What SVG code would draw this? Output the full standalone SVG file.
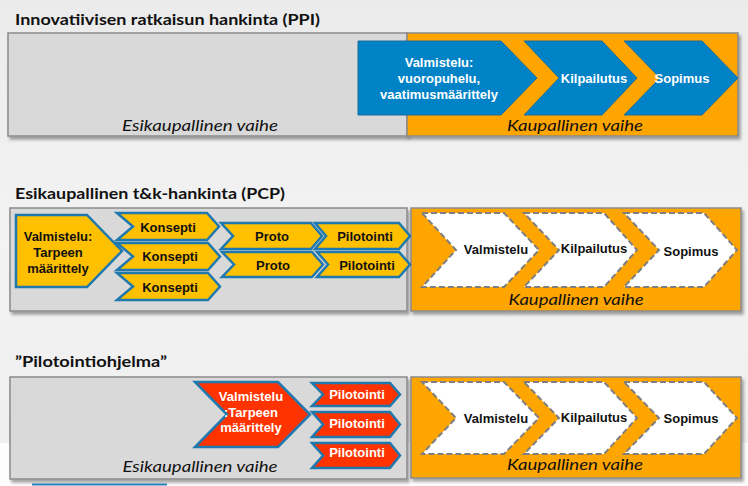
<svg xmlns="http://www.w3.org/2000/svg" width="748" height="486" viewBox="0 0 748 486">
<defs>
<linearGradient id="bg" x1="0" y1="0" x2="0" y2="1">
<stop offset="0" stop-color="#ebebeb"/>
<stop offset="0.5" stop-color="#f3f3f3"/>
<stop offset="1" stop-color="#eeeeee"/>
</linearGradient>
<filter id="sh" x="-5%" y="-10%" width="110%" height="125%">
<feDropShadow dx="2" dy="3" stdDeviation="1.8" flood-color="#000" flood-opacity="0.35"/>
</filter>
<style>
.title{font-family:Lato,"Liberation Sans",sans-serif;font-weight:bold;font-size:16px;fill:#111}
.phase{font-family:Lato,"Liberation Sans",sans-serif;font-style:italic;font-size:16px;fill:#111;text-anchor:middle}
.grey{fill:#d9d9d9;stroke:#8a8a8a;stroke-width:1.5}
.orange{fill:#ffa500;stroke:#8a8a8a;stroke-width:1.5}
.blue{fill:#0082c6;stroke:#1b6c9c;stroke-width:1}
.yellow{fill:#ffc000;stroke:#1f78ae;stroke-width:2.5;stroke-linejoin:miter}
.red{fill:#ff3300;stroke:#1f78ae;stroke-width:2.5;stroke-linejoin:miter}
.white{fill:#fff;stroke:#7f7f7f;stroke-width:2;stroke-dasharray:6 3}
.lbl{font-family:"Liberation Sans",Arial,sans-serif;font-weight:bold;font-size:13px;text-anchor:middle}
.wt{fill:#fff}
.dk{fill:#111}
</style>
</defs>
<rect x="0" y="0" width="748" height="486" fill="url(#bg)"/>
<rect x="0" y="443" width="748" height="43" fill="#fdfdfd"/>
<line x1="32" y1="484.5" x2="167" y2="484.5" stroke="#2a86c0" stroke-width="2"/>

<!-- Section 1: PPI -->
<text class="title" x="15" y="25" textLength="305" lengthAdjust="spacingAndGlyphs">Innovatiivisen ratkaisun hankinta (PPI)</text>
<g id="ppi-esikaupallinen">
<rect class="grey" x="8" y="33" width="399" height="103" filter="url(#sh)"/>
<text class="phase" x="200" y="131" textLength="156" lengthAdjust="spacingAndGlyphs">Esikaupallinen vaihe</text>
</g>
<g id="ppi-kaupallinen">
<rect class="orange" x="407" y="33" width="331" height="103" filter="url(#sh)"/>
<text class="phase" x="575" y="131" textLength="136" lengthAdjust="spacingAndGlyphs">Kaupallinen vaihe</text>
</g>
<g id="ppi-valmistelu">
<path class="blue" d="M358,41 L501,41 L537,78 L501,115 L358,115 Z"/>
<text class="lbl wt" font-size="12.5" x="439" y="67">Valmistelu:</text>
<text class="lbl wt" font-size="12.5" x="439" y="83">vuoropuhelu,</text>
<text class="lbl wt" font-size="12.5" x="439" y="99">vaatimusmäärittely</text>
</g>
<g id="ppi-kilpailutus">
<path class="blue" d="M524,41 L602,41 L637,78 L602,115 L524,115 L559,78 Z"/>
<text class="lbl wt" x="594" y="83">Kilpailutus</text>
</g>
<g id="ppi-sopimus">
<path class="blue" d="M624,41 L702,41 L738,78 L702,115 L624,115 L660,78 Z"/>
<text class="lbl wt" x="682" y="83">Sopimus</text>
</g>

<!-- Section 2: PCP -->
<text class="title" x="15" y="199" textLength="270" lengthAdjust="spacingAndGlyphs">Esikaupallinen t&amp;k-hankinta (PCP)</text>
<g id="pcp-esikaupallinen">
<rect class="grey" x="10" y="208" width="397" height="103" filter="url(#sh)"/>
</g>
<g id="pcp-kaupallinen">
<rect class="orange" x="411" y="208" width="330" height="103" filter="url(#sh)"/>
<text class="phase" x="576" y="305" textLength="135" lengthAdjust="spacingAndGlyphs">Kaupallinen vaihe</text>
</g>
<g id="pcp-valmistelu">
<path class="yellow" d="M16,215 L87,215 L122,251 L87,287 L16,287 Z"/>
<text class="lbl dk" font-size="14" x="58" y="241">Valmistelu:</text>
<text class="lbl dk" font-size="14" x="58" y="257">Tarpeen</text>
<text class="lbl dk" font-size="14" x="58" y="273">määrittely</text>
</g>
<g id="pcp-konsepti-1">
<path class="yellow" d="M117,213 L207,213 L219,226.5 L207,240 L117,240 L133,226.5 Z"/>
<text class="lbl dk" x="168" y="232">Konsepti</text>
</g>
<g id="pcp-konsepti-2">
<path class="yellow" d="M117,243 L208,243 L220,256.5 L208,270 L117,270 L133,256.5 Z"/>
<text class="lbl dk" x="170" y="261">Konsepti</text>
</g>
<g id="pcp-konsepti-3">
<path class="yellow" d="M117,273 L208,273 L220,286.5 L208,300 L117,300 L133,286.5 Z"/>
<text class="lbl dk" x="170" y="292">Konsepti</text>
</g>
<g id="pcp-proto-1">
<path class="yellow" d="M221,223 L311,223 L322,236 L311,249 L221,249 L233,236 Z"/>
<text class="lbl dk" x="272" y="241">Proto</text>
</g>
<g id="pcp-proto-2">
<path class="yellow" d="M222,252 L312,252 L323,264.5 L312,277 L222,277 L234,264.5 Z"/>
<text class="lbl dk" x="273" y="270">Proto</text>
</g>
<g id="pcp-pilotointi-1">
<path class="yellow" d="M315,223 L399,223 L410,236 L399,249 L315,249 L326,236 Z"/>
<text class="lbl dk" x="365" y="241">Pilotointi</text>
</g>
<g id="pcp-pilotointi-2">
<path class="yellow" d="M317,252 L399,252 L410,264.5 L399,277 L317,277 L328,264.5 Z"/>
<text class="lbl dk" x="367" y="270">Pilotointi</text>
</g>
<g id="pcp-k-valmistelu">
<path class="white" d="M422,213 L504,213 L539,250 L504,287 L422,287 L456,250 Z"/>
<text class="lbl dk" x="496" y="254">Valmistelu</text>
</g>
<g id="pcp-k-kilpailutus">
<path class="white" d="M524,213 L604,213 L637,250 L604,287 L524,287 L559,250 Z"/>
<text class="lbl dk" x="594" y="253">Kilpailutus</text>
</g>
<g id="pcp-k-sopimus">
<path class="white" d="M624,213 L704,213 L737,250 L704,287 L624,287 L659,250 Z"/>
<text class="lbl dk" x="691" y="256">Sopimus</text>
</g>

<!-- Section 3: Pilotointiohjelma -->
<text class="title" x="15" y="367" textLength="152" lengthAdjust="spacingAndGlyphs">”Pilotointiohjelma”</text>
<g id="pil-esikaupallinen">
<rect class="grey" x="10" y="377" width="397" height="102" filter="url(#sh)"/>
<text class="phase" x="200" y="472" textLength="155" lengthAdjust="spacingAndGlyphs">Esikaupallinen vaihe</text>
</g>
<g id="pil-kaupallinen">
<rect class="orange" x="411" y="377" width="330" height="101" filter="url(#sh)"/>
<text class="phase" x="575" y="470" textLength="136" lengthAdjust="spacingAndGlyphs">Kaupallinen vaihe</text>
</g>
<g id="pil-valmistelu">
<path class="red" d="M195,382 L278,382 L310,414.5 L278,447 L195,447 L227,414.5 Z"/>
<text class="lbl wt" font-size="14" x="251" y="401">Valmistelu</text>
<text class="lbl wt" font-size="14" x="251" y="417">:Tarpeen</text>
<text class="lbl wt" font-size="14" x="251" y="432">määrittely</text>
</g>
<g id="pil-pilotointi-1">
<path class="red" d="M312,383 L390,383 L400,394.5 L390,406 L312,406 L323,394.5 Z"/>
<text class="lbl wt" x="357" y="399">Pilotointi</text>
</g>
<g id="pil-pilotointi-2">
<path class="red" d="M312,412 L390,412 L400,424.5 L390,437 L312,437 L323,424.5 Z"/>
<text class="lbl wt" x="357" y="428">Pilotointi</text>
</g>
<g id="pil-pilotointi-3">
<path class="red" d="M312,443 L390,443 L400,455.5 L390,468 L312,468 L323,455.5 Z"/>
<text class="lbl wt" x="357" y="457">Pilotointi</text>
</g>
<g id="pil-k-valmistelu">
<path class="white" d="M422,382 L504,382 L539,418 L504,454 L422,454 L456,418 Z"/>
<text class="lbl dk" x="496" y="423">Valmistelu</text>
</g>
<g id="pil-k-kilpailutus">
<path class="white" d="M524,382 L604,382 L637,418 L604,454 L524,454 L559,418 Z"/>
<text class="lbl dk" x="594" y="422">Kilpailutus</text>
</g>
<g id="pil-k-sopimus">
<path class="white" d="M624,382 L704,382 L737,418 L704,454 L624,454 L659,418 Z"/>
<text class="lbl dk" x="691" y="423">Sopimus</text>
</g>

<g id="connectors"></g>
</svg>
